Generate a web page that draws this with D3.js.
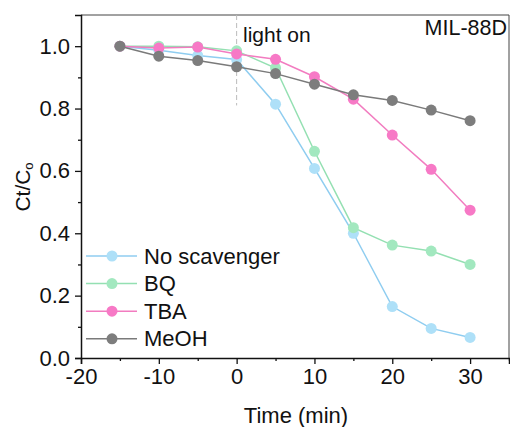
<!DOCTYPE html>
<html><head><meta charset="utf-8">
<script src="https://cdn.jsdelivr.net/npm/d3@7"></script>
<style>body{margin:0;background:#fff}svg{display:block}text{font-family:"Liberation Sans",Arial,sans-serif;fill:#111}</style>
</head><body>
<script>
const times = [-15, -10, -5, 0, 5, 10, 15, 20, 25, 30];
const noScavenger = [1.0, 0.987, 0.970, 0.957, 0.814, 0.608, 0.400, 0.165, 0.095, 0.066];
const bq = [1.0, 1.0, 0.998, 0.985, 0.930, 0.663, 0.418, 0.362, 0.343, 0.300];
const tba = [1.0, 0.994, 0.997, 0.975, 0.958, 0.902, 0.830, 0.715, 0.605, 0.474];
const meoh = [1.0, 0.968, 0.954, 0.934, 0.912, 0.878, 0.844, 0.826, 0.795, 0.761];
const seriesNames = ["No scavenger", "BQ", "TBA", "MeOH"];
const xTicks = [-20, -10, 0, 10, 20, 30];
const xTickLabels = ["-20", "-10", "0", "10", "20", "30"];
const yTicks = [0.0, 0.2, 0.4, 0.6, 0.8, 1.0];
const yTickLabels = ["0.0", "0.2", "0.4", "0.6", "0.8", "1.0"];

const series = [
  {name: seriesNames[0], values: noScavenger, line: "#8fcdf0", fill: "#aee0f8"},
  {name: seriesNames[1], values: bq, line: "#94e0b2", fill: "#a2e8bf"},
  {name: seriesNames[2], values: tba, line: "#f27cc0", fill: "#f779c6"},
  {name: seriesNames[3], values: meoh, line: "#7a7a7a", fill: "#7d7d7d"}
];

const W = 510, H = 427;
const svg = d3.select("body").append("svg").attr("width", W).attr("height", H);
const x = d3.scaleLinear().domain([-20, 35]).range([81, 509]);
const y = d3.scaleLinear().domain([0, 1.1]).range([358, 15]);

svg.append("line").attr("x1", 81).attr("x2", 509).attr("y1", 15).attr("y2", 15).attr("stroke", "#444").attr("stroke-width", 1);
svg.append("line").attr("x1", 509).attr("x2", 509).attr("y1", 15).attr("y2", 358).attr("stroke", "#444").attr("stroke-width", 1);

svg.append("line").attr("x1", x(0)).attr("x2", x(0)).attr("y1", y(1.1)).attr("y2", y(0.81))
  .attr("stroke", "#bbb").attr("stroke-width", 1).attr("stroke-dasharray", "5,3");

const xAxis = svg.append("g").attr("transform", "translate(0,358)")
  .call(d3.axisBottom(x).tickValues(xTicks).tickSize(6).tickPadding(4).tickFormat((d, i) => xTickLabels[i]));
svg.append("g").attr("transform", "translate(0,358)")
  .call(d3.axisBottom(x).tickValues([-15, -5, 5, 15, 25, 35]).tickSize(3).tickFormat(""))
  .call(g => g.select(".domain").remove());
const yAxis = svg.append("g").attr("transform", "translate(81,0)")
  .call(d3.axisLeft(y).tickValues(yTicks).tickSize(6).tickPadding(5).tickFormat((d, i) => yTickLabels[i]));
svg.append("g").attr("transform", "translate(81,0)")
  .call(d3.axisLeft(y).tickValues([0.1, 0.3, 0.5, 0.7, 0.9]).tickSize(3).tickFormat(""))
  .call(g => g.select(".domain").remove());
svg.selectAll(".tick line").attr("stroke", "#111").attr("stroke-width", 1.3);
svg.selectAll(".domain").attr("stroke", "#111").attr("stroke-width", 1.5);
xAxis.selectAll("text").attr("font-size", 22).attr("fill", "#111");
yAxis.selectAll("text").attr("font-size", 22).attr("fill", "#111");
svg.selectAll(".tick text").style("font-family", "Liberation Sans, Arial, sans-serif");

const lineGen = d3.line().x((d, i) => x(times[i])).y(d => y(d));
series.forEach(s => {
  svg.append("path").attr("d", lineGen(s.values)).attr("fill", "none").attr("stroke", s.line).attr("stroke-width", 1.5);
  svg.append("g").selectAll("circle").data(s.values).join("circle")
    .attr("cx", (d, i) => x(times[i])).attr("cy", d => y(d)).attr("r", 5.5).attr("fill", s.fill);
});

const leg = svg.append("g");
series.forEach((s, i) => {
  const yy = 256 + i * 27.6;
  leg.append("line").attr("x1", 86).attr("x2", 137).attr("y1", yy).attr("y2", yy).attr("stroke", s.line).attr("stroke-width", 1.5);
  leg.append("circle").attr("cx", 112).attr("cy", yy).attr("r", 5.5).attr("fill", s.fill);
  leg.append("text").attr("x", 144).attr("y", yy + 7.5).attr("font-size", 22).text(s.name);
});

svg.append("text").attr("x", 243).attr("y", 42).attr("font-size", 21).text("light on");
svg.append("text").attr("x", 507).attr("y", 35).attr("font-size", 21.5).attr("text-anchor", "end").text("MIL-88D");

svg.append("text").attr("x", 296).attr("y", 423).attr("font-size", 22).attr("text-anchor", "middle").text("Time (min)");
const yl = svg.append("text").attr("transform", "translate(30,187) rotate(-90)").attr("text-anchor", "middle").attr("font-size", 21);
yl.append("tspan").text("Ct/C");
yl.append("tspan").attr("font-size", 13).attr("dy", 3).text("o");
</script>
</body></html>
